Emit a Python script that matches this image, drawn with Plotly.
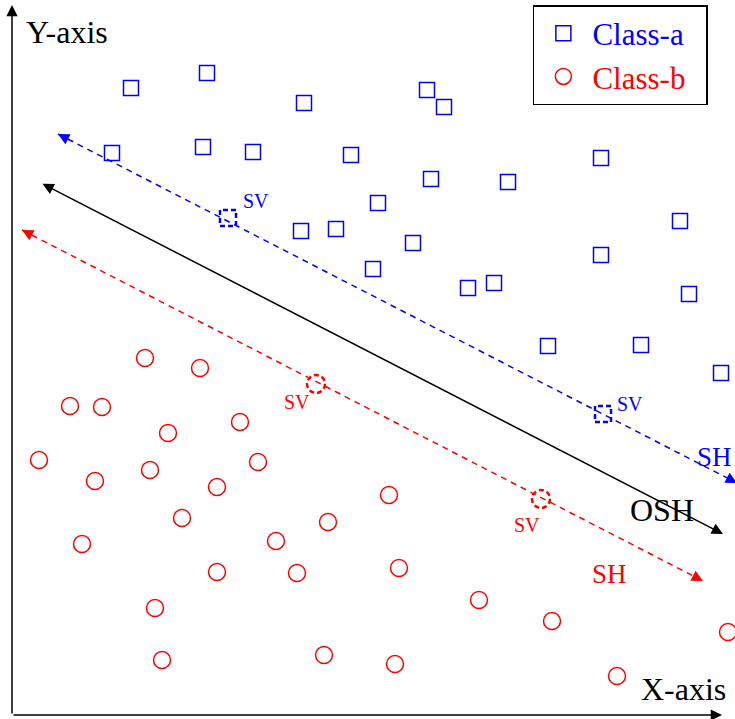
import math
import plotly.graph_objects as go

# class-a samples (squares)
class_a_x = [131, 207, 304, 427, 444, 112, 203, 253, 351, 431, 508, 601, 378,
             301, 336, 413, 680, 373, 601, 468, 494, 689, 548, 641, 721]
class_a_y = [631, 646, 616, 629, 612, 566, 572, 567, 564, 540, 537, 561, 516,
             488, 490, 476, 498, 450, 464, 431, 436, 425, 373, 374, 346]

# class-b samples (circles)
class_b_x = [145, 200, 70, 102, 168, 240, 39, 258, 150, 95, 217, 389, 182, 328,
             82, 276, 217, 297, 399, 155, 479, 552, 728, 162, 324, 395, 617]
class_b_y = [361, 351, 313, 312, 286, 297, 259, 257, 249, 238, 232, 224, 201, 197,
             175, 178, 147, 146, 151, 111, 119, 98, 87, 59, 64, 55, 43]

# support vectors
sv_a_x = [228, 603]
sv_a_y = [501, 305]
sv_b_x = [316, 541]
sv_b_y = [335, 220]

# hyperplanes (start, end)
sh_a_x = [58, 737]
sh_a_y = [585, 236]
osh_x = [41, 723]
osh_y = [536, 185]
sh_b_x = [22, 703]
sh_b_y = [489, 138]

BLUE = '#0000ff'
RED = '#ff0000'
FONT = 'Liberation Serif'

fig = go.Figure()

fig.add_trace(go.Scatter(x=sh_a_x, y=sh_a_y, mode='lines', showlegend=False,
                         line=dict(color=BLUE, width=1.5, dash='6px,5px')))
fig.add_trace(go.Scatter(x=sh_b_x, y=sh_b_y, mode='lines', showlegend=False,
                         line=dict(color=RED, width=1.5, dash='6px,5px')))

fig.add_trace(go.Scatter(x=class_a_x, y=class_a_y, mode='markers',
                         name="<span style='color:blue'>Class-a</span>&nbsp;&nbsp;",
                         marker=dict(symbol='square-open', size=15, color=BLUE, line=dict(width=1.5))))
fig.add_trace(go.Scatter(x=class_b_x, y=class_b_y, mode='markers',
                         name="<span style='color:red'>Class-b</span>&nbsp;&nbsp;",
                         marker=dict(symbol='circle-open', size=17, color=RED, line=dict(width=1.5))))

shapes = []
for x, y in zip(sv_a_x, sv_a_y):
    shapes.append(dict(type='rect', xref='x', yref='y', x0=x-8, x1=x+8, y0=y-8, y1=y+8,
                       line=dict(color=BLUE, width=2.5, dash='5px,3px')))
for x, y in zip(sv_b_x, sv_b_y):
    shapes.append(dict(type='circle', xref='x', yref='y', x0=x-9, x1=x+9, y0=y-9, y1=y+9,
                       line=dict(color=RED, width=2.5, dash='5px,3px')))

annotations = []


def head(xs, ys, color, back=12):
    # arrow heads on both ends of a dashed line
    dx, dy = xs[1]-xs[0], ys[1]-ys[0]
    n = math.hypot(dx, dy)
    ux, uy = dx/n, dy/n
    for tx, ty, s in [(xs[1], ys[1], 1), (xs[0], ys[0], -1)]:
        annotations.append(dict(x=tx, y=ty, ax=tx-s*ux*back, ay=ty-s*uy*back,
                                xref='x', yref='y', axref='x', ayref='y', text='',
                                showarrow=True, arrowhead=2, arrowsize=1.5,
                                arrowwidth=1.5, arrowcolor=color))


head(sh_a_x, sh_a_y, BLUE)
head(sh_b_x, sh_b_y, RED)

# optimal separating hyperplane
annotations.append(dict(x=osh_x[1], y=osh_y[1], ax=osh_x[0], ay=osh_y[0],
                        xref='x', yref='y', axref='x', ayref='y', text='',
                        showarrow=True, arrowhead=2, arrowside='end+start',
                        arrowsize=1.5, arrowwidth=1.5, arrowcolor='black'))

# axes
annotations.append(dict(x=722, y=4, ax=12, ay=4, xref='x', yref='y', axref='x', ayref='y',
                        text='', showarrow=True, arrowhead=2, arrowsize=1.5,
                        arrowwidth=1.5, arrowcolor='black'))
annotations.append(dict(x=12, y=714, ax=12, ay=4, xref='x', yref='y', axref='x', ayref='y',
                        text='', showarrow=True, arrowhead=2, arrowsize=1.5,
                        arrowwidth=1.5, arrowcolor='black'))

labels = [
    ('SV', 256, 518, BLUE, 20),
    ('SV', 630, 315, BLUE, 20),
    ('SV', 297, 317, RED, 20),
    ('SV', 527, 194, RED, 20),
    ('SH', 714, 262, BLUE, 27),
    ('SH', 609, 145, RED, 27),
    ('OSH', 662, 209, 'black', 32),
    ('Y-axis', 67, 687, 'black', 32),
    ('X-axis', 683, 30, 'black', 32),
]
for t, x, y, c, s in labels:
    annotations.append(dict(x=x, y=y, xref='x', yref='y', text=t, showarrow=False,
                            font=dict(family=FONT, size=s, color=c)))

fig.update_layout(
    width=735, height=719,
    margin=dict(l=0, r=0, t=0, b=0),
    plot_bgcolor='white', paper_bgcolor='white',
    xaxis=dict(range=[0, 735], visible=False, fixedrange=True),
    yaxis=dict(range=[0, 719], visible=False, fixedrange=True),
    shapes=shapes,
    annotations=annotations,
    legend=dict(x=0.725, y=0.993, xanchor='left', yanchor='top',
                bordercolor='black', borderwidth=1.5, bgcolor='white',
                font=dict(family=FONT, size=31), itemwidth=48,
                tracegroupgap=0),
    showlegend=True,
)

fig.write_html("out.html", config={'displayModeBar': False},
               post_script="document.body.style.margin='0px';")
